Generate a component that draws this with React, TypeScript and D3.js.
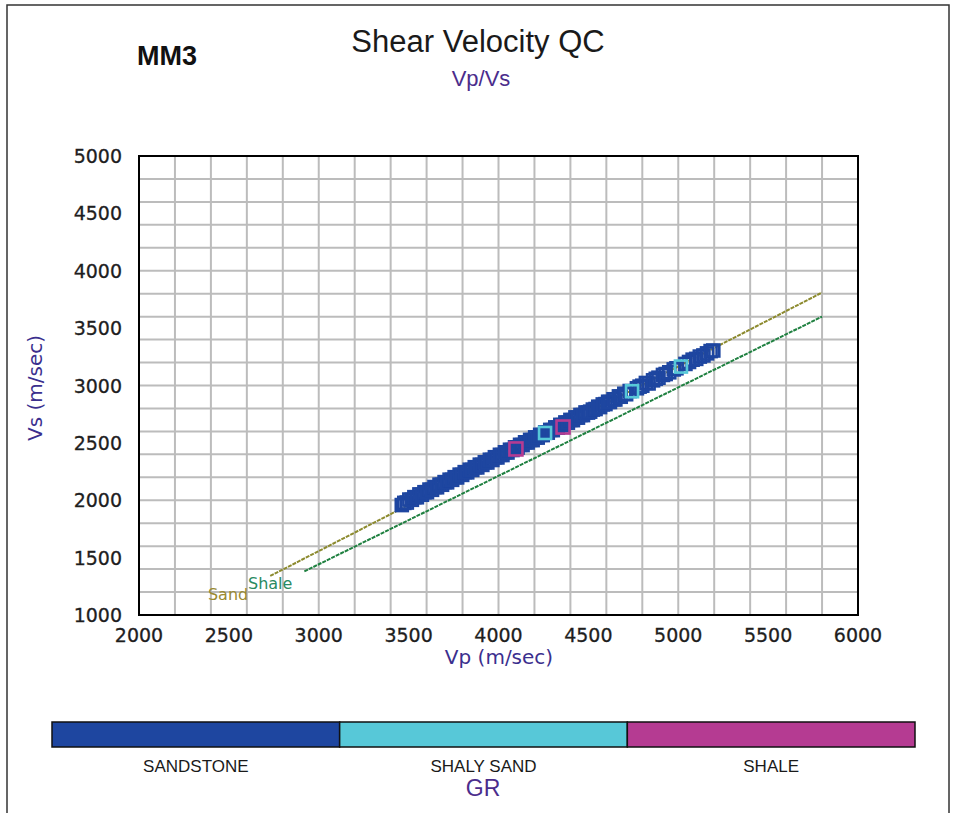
import * as d3 from 'd3';

// Vp (m/sec) / Vs (m/sec) crossplot values
const sandstonePts: [number, number][] = [
  [3462, 1958], [3476, 1977], [3490, 1980], [3504, 2006], [3518, 2004], [3532, 2027],
  [3546, 2026], [3560, 2051], [3574, 2048], [3588, 2070], [3602, 2070], [3616, 2093],
  [3630, 2091], [3644, 2115], [3658, 2113], [3672, 2136], [3686, 2135], [3700, 2158],
  [3714, 2156], [3728, 2179], [3742, 2178], [3756, 2201], [3770, 2199], [3784, 2223],
  [3798, 2221], [3812, 2245], [3826, 2243], [3840, 2266], [3854, 2264], [3868, 2288],
  [3882, 2286], [3896, 2310], [3910, 2308], [3924, 2331], [3938, 2329], [3952, 2353],
  [3966, 2351], [3980, 2375], [3994, 2373], [4008, 2396], [4022, 2394], [4036, 2418],
  [4050, 2416], [4064, 2440], [4078, 2438], [4092, 2461], [4106, 2459], [4120, 2483],
  [4134, 2481], [4148, 2505], [4162, 2503], [4176, 2526], [4190, 2524], [4204, 2548],
  [4218, 2546], [4232, 2570], [4246, 2568], [4260, 2591], [4274, 2589], [4288, 2613],
  [4302, 2611], [4316, 2635], [4330, 2633], [4344, 2657], [4358, 2655], [4372, 2678],
  [4386, 2676], [4400, 2700], [4414, 2698], [4428, 2722], [4442, 2720], [4456, 2743],
  [4470, 2742], [4484, 2765], [4498, 2764],
  [4510, 2772], [4525, 2790], [4540, 2795], [4555, 2815], [4565, 2812], [4580, 2835],
  [4595, 2838], [4610, 2858], [4620, 2856], [4640, 2880], [4650, 2878], [4670, 2905],
  [4680, 2902], [4700, 2928], [4710, 2924], [4730, 2952], [4770, 2976], [4785, 2990],
  [4800, 2998], [4820, 3022], [4835, 3018], [4860, 3045], [4875, 3058], [4890, 3068],
  [4915, 3092], [4930, 3100], [4950, 3115], [4975, 3140], [4990, 3150], [5040, 3188],
  [5060, 3205], [5080, 3225], [5100, 3232], [5120, 3252], [5140, 3262], [5160, 3280],
  [5180, 3300], [5195, 3305],
];
const shalySandPts: [number, number][] = [[4259, 2586], [4743, 2950], [5015, 3165]];
const shalePts: [number, number][] = [[4097, 2447], [4359, 2638]];

// reference trend lines
const sandLine: [number, number][] = [[2730, 1340], [5800, 3810]];
const shaleLine: [number, number][] = [[2920, 1380], [5800, 3600]];

const xTicks = [2000, 2500, 3000, 3500, 4000, 4500, 5000, 5500, 6000];
const yTicks = [1000, 1500, 2000, 2500, 3000, 3500, 4000, 4500, 5000];

const legendNames = ['SANDSTONE', 'SHALY SAND', 'SHALE'];
const legendColors = ['#1e46a0', '#57c8d8', '#b53b92'];

const W = 955;
const H = 813;
const plot = { left: 139, right: 858, top: 156, bottom: 615 };

export default function App() {
  const x = d3.scaleLinear().domain([2000, 6000]).range([plot.left, plot.right]);
  const y = d3.scaleLinear().domain([1000, 5000]).range([plot.bottom, plot.top]);
  const line = d3.line<[number, number]>().x((d) => x(d[0])).y((d) => y(d[1]));
  const legendX = d3.scaleBand<string>().domain(legendNames).range([52, 915]);

  const gridX = x.ticks(16);
  const gridY = y.ticks(16);

  const markers = (pts: [number, number][], color: string, key: string, sq: number) =>
    pts.map((d, i) => (
      <rect
        key={key + i}
        x={x(d[0]) - sq / 2}
        y={y(d[1]) - sq / 2}
        width={sq}
        height={sq}
        fill="none"
        stroke={color}
        strokeWidth={2.6}
      />
    ));

  return (
    <div style={{ position: 'absolute', left: 0, top: 0 }}>
      <svg width={W} height={H} viewBox={`0 0 ${W} ${H}`} style={{ display: 'block', background: '#fff' }}>
        <rect x={7} y={5} width={942} height={812} fill="none" stroke="#333" strokeWidth={1.5} />

        {/* headings */}
        <text x={137} y={65} fontFamily="'Liberation Sans', Arial, sans-serif" fontWeight="bold" fontSize={27} fill="#111">
          MM3
        </text>
        <text x={478} y={52} textAnchor="middle" fontFamily="'Liberation Sans', Arial, sans-serif" fontSize={31} fill="#1a1a1a">
          Shear Velocity QC
        </text>
        <text x={481} y={86} textAnchor="middle" fontFamily="'Liberation Sans', Arial, sans-serif" fontSize={22} fill="#4b2d8c">
          Vp/Vs
        </text>

        {/* grid */}
        {gridX.map((v) => (
          <line key={'gx' + v} x1={x(v)} x2={x(v)} y1={plot.top} y2={plot.bottom} stroke="#bcbcbc" strokeWidth={2} />
        ))}
        {gridY.map((v) => (
          <line key={'gy' + v} x1={plot.left} x2={plot.right} y1={y(v)} y2={y(v)} stroke="#bcbcbc" strokeWidth={2} />
        ))}

        {/* trend lines */}
        <path d={line(sandLine) || ''} fill="none" stroke="#8c8a2e" strokeWidth={2} strokeDasharray="4 1" />
        <path d={line(shaleLine) || ''} fill="none" stroke="#1f8040" strokeWidth={2} strokeDasharray="4 1" />
        <text x={x(sandLine[0][0]) - 22} y={y(sandLine[0][1]) + 24} textAnchor="end" fontFamily="'DejaVu Sans', sans-serif" fontSize={16} fill="#9a8a32">
          Sand
        </text>
        <text x={x(shaleLine[0][0]) - 12} y={y(shaleLine[0][1]) + 18} textAnchor="end" fontFamily="'DejaVu Sans', sans-serif" fontSize={16} fill="#2a8a62">
          Shale
        </text>

        {/* points */}
        {markers(sandstonePts, legendColors[0], 'sd', 12)}
        {markers(shalySandPts, legendColors[1], 'ss', 12)}
        {markers(shalePts, legendColors[2], 'sh', 13)}

        {/* frame */}
        <rect x={plot.left} y={plot.top} width={plot.right - plot.left} height={plot.bottom - plot.top} fill="none" stroke="#000" strokeWidth={2} />

        {/* axes labels */}
        {xTicks.map((v) => (
          <text key={'xt' + v} x={x(v)} y={642} textAnchor="middle" fontFamily="'DejaVu Sans', sans-serif" fontSize={19} fill="#1e1e1e" stroke="#1e1e1e" strokeWidth={0.3}>
            {v}
          </text>
        ))}
        {yTicks.map((v) => (
          <text key={'yt' + v} x={122} y={y(v) + 7} textAnchor="end" fontFamily="'DejaVu Sans', sans-serif" fontSize={19} fill="#1e1e1e" stroke="#1e1e1e" strokeWidth={0.3}>
            {v}
          </text>
        ))}
        <text x={499} y={664} textAnchor="middle" fontFamily="'DejaVu Sans', sans-serif" fontSize={20} fill="#3b2f8e">
          Vp (m/sec)
        </text>
        <text transform="translate(42,388) rotate(-90)" textAnchor="middle" fontFamily="'DejaVu Sans', sans-serif" fontSize={20} fill="#3b2f8e">
          Vs (m/sec)
        </text>

        {/* GR legend bar */}
        {legendNames.map((n, i) => (
          <g key={n}>
            <rect x={legendX(n)} y={722} width={legendX.bandwidth()} height={25} fill={legendColors[i]} stroke="#111" strokeWidth={1.5} />
            <text x={(legendX(n) || 0) + legendX.bandwidth() / 2} y={772} textAnchor="middle" fontFamily="'Liberation Sans', Arial, sans-serif" fontSize={17} fill="#1a1a1a">
              {n}
            </text>
          </g>
        ))}
        <text x={483} y={796} textAnchor="middle" fontFamily="'Liberation Sans', Arial, sans-serif" fontSize={23} fill="#4b2d8c">
          GR
        </text>
      </svg>
    </div>
  );
}
